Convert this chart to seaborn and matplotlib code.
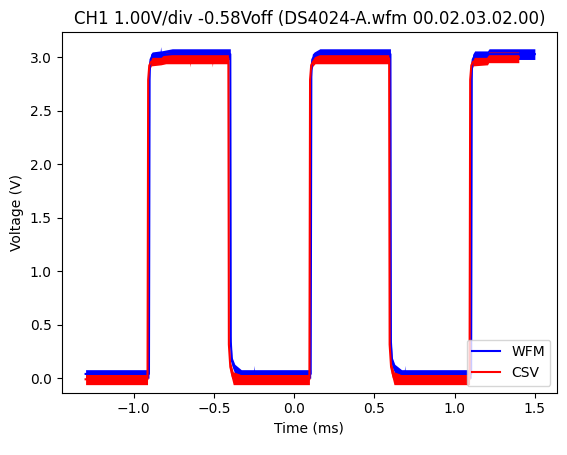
import numpy as np
import pandas as pd
import seaborn as sns
import matplotlib.pyplot as plt

# ---- WFM (blue) envelope: time (ms), lower / upper edge of the noisy trace (V)
wfm_time = [-1.300, -0.905, -0.901, -0.895, -0.885, -0.835, -0.832, -0.829, -0.760,
            -0.398, -0.395, -0.388, -0.370, -0.330, -0.252, -0.250, -0.248,
            0.103, 0.107, 0.113, 0.125, 0.160,
            0.600, 0.603, 0.610, 0.627, 0.669, 0.687, 0.689, 0.691,
            1.103, 1.107, 1.113, 1.125, 1.205, 1.215, 1.500]
wfm_low = [0.00, 0.00, 2.80, 2.93, 2.97, 2.98, 2.98, 2.98, 2.98,
           2.98, 0.28, 0.12, 0.04, 0.00, 0.00, 0.00, 0.00,
           0.00, 2.80, 2.93, 2.97, 2.98,
           2.98, 0.28, 0.12, 0.04, 0.00, 0.00, 0.00, 0.00,
           0.00, 2.80, 2.93, 2.97, 2.98, 2.98, 2.98]
wfm_high = [0.08, 0.08, 2.95, 3.03, 3.05, 3.06, 3.10, 3.06, 3.08,
            3.08, 0.40, 0.20, 0.13, 0.08, 0.08, 0.12, 0.08,
            0.08, 2.95, 3.03, 3.05, 3.08,
            3.08, 0.40, 0.20, 0.13, 0.08, 0.08, 0.12, 0.08,
            0.08, 2.95, 3.03, 3.06, 3.06, 3.08, 3.08]

# ---- CSV (red) envelope
csv_time = [-1.300, -0.914, -0.910, -0.903, -0.890, -0.830, -0.800,
            -0.652, -0.650, -0.648, -0.512, -0.510, -0.508,
            -0.410, -0.407, -0.398, -0.380, -0.340,
            0.095, 0.099, 0.106, 0.118, 0.130, 0.150,
            0.592, 0.595, 0.604, 0.622, 0.660,
            1.093, 1.097, 1.104, 1.116, 1.205, 1.212, 1.400]
csv_low = [-0.06, -0.06, 2.70, 2.88, 2.92, 2.93, 2.94,
           2.94, 2.91, 2.94, 2.94, 2.91, 2.94,
           2.94, 0.25, 0.05, -0.06, -0.06,
           -0.06, 2.70, 2.88, 2.92, 2.94, 2.94,
           2.94, 0.25, 0.05, -0.06, -0.06,
           -0.06, 2.70, 2.88, 2.92, 2.93, 2.95, 2.95]
csv_high = [0.04, 0.04, 2.88, 2.97, 3.00, 3.00, 3.04,
            3.04, 3.04, 3.04, 3.04, 3.04, 3.04,
            3.04, 0.38, 0.16, 0.06, 0.04,
            0.04, 2.88, 2.97, 3.00, 3.01, 3.04,
            3.04, 0.38, 0.16, 0.06, 0.04,
            0.04, 2.88, 2.97, 3.00, 3.00, 3.05, 3.05]

title = "CH1 1.00V/div -0.58Voff (DS4024-A.wfm 00.02.03.02.00)"


def envelope_frame(t, lo, hi):
    return pd.DataFrame({
        "Time (ms)": np.concatenate([t, t]),
        "Voltage (V)": np.concatenate([lo, hi]),
    })


fig = plt.figure(figsize=(5.67, 4.55), dpi=100)
ax = fig.add_axes([0.1085, 0.137, 0.8744, 0.792])

for t, lo, hi, color, name in [
    (wfm_time, wfm_low, wfm_high, "blue", "WFM"),
    (csv_time, csv_low, csv_high, "red", "CSV"),
]:
    df = envelope_frame(t, lo, hi)
    sns.lineplot(data=df, x="Time (ms)", y="Voltage (V)", estimator="mean",
                 errorbar=("pi", 100), color=color, linewidth=1.5,
                 err_kws={"alpha": 1, "linewidth": 0}, label=name, ax=ax)

ax.set_xlim(-1.45, 1.64)
ax.set_ylim(-0.135, 3.234)
ax.set_xlabel("Time (ms)")
ax.set_ylabel("Voltage (V)")
ax.set_title(title)
ax.legend(loc="lower right")

fig.savefig("out.png", dpi=100)
